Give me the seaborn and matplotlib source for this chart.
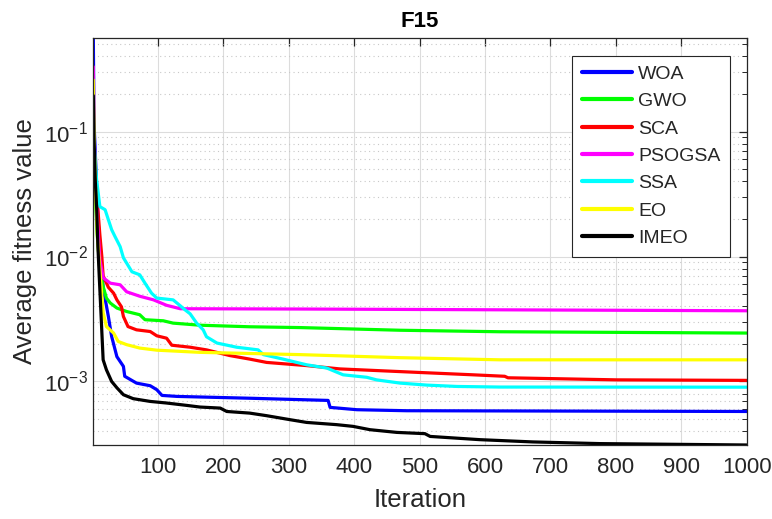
import numpy as np
import pandas as pd
import matplotlib
matplotlib.use("Agg")
import matplotlib.pyplot as plt
import seaborn as sns
from matplotlib.ticker import LogLocator, FixedLocator, NullFormatter

# ---------------- data ----------------
woa_it = [1, 2, 5, 8, 16, 24, 29, 37, 47, 49, 67, 88, 98, 106, 129, 240, 360, 363, 404, 480, 1000]
woa_v = [0.565, 0.12, 0.05, 0.02, 0.00562, 0.00331, 0.00229, 0.00158, 0.00132, 0.0011, 0.00097,
         0.000924, 0.000859, 0.000773, 0.000759, 0.000734, 0.000705, 0.00062, 0.000594, 0.000583, 0.000575]

gwo_it = [1, 2, 4, 7, 11, 16, 21, 27, 37, 52, 72, 80, 108, 123, 164, 240, 317, 470, 622, 1000]
gwo_v = [0.15, 0.08, 0.03, 0.015, 0.00783, 0.00575, 0.00465, 0.00424, 0.00387, 0.00363, 0.00342,
         0.00312, 0.00306, 0.00293, 0.00282, 0.00274, 0.0027, 0.00257, 0.0025, 0.00244]

sca_it = [1, 2, 11, 14, 16, 24, 32, 37, 44, 47, 54, 67, 88, 98, 113, 121, 149, 174, 210, 240,
          266, 327, 378, 500, 582, 630, 635, 801, 1000]
sca_v = [0.15, 0.06, 0.0149, 0.01, 0.00701, 0.00567, 0.00509, 0.0045, 0.00396, 0.00331, 0.00275,
         0.00259, 0.00251, 0.00232, 0.00222, 0.00195, 0.00188, 0.00179, 0.00161, 0.00151, 0.00142,
         0.00134, 0.00126, 0.00118, 0.00113, 0.0011, 0.00107, 0.00103, 0.00102]

pso_it = [1, 2, 5, 11, 16, 27, 42, 52, 72, 93, 113, 134, 317, 1000]
pso_v = [0.331, 0.1, 0.03, 0.00941, 0.00676, 0.00612, 0.00594, 0.00522, 0.00481, 0.0045, 0.00407,
         0.00382, 0.0038, 0.00368]

ssa_it = [1, 2, 6, 11, 19, 24, 29, 34, 42, 47, 52, 60, 72, 80, 90, 98, 123, 134, 141, 149, 159,
          169, 174, 190, 220, 253, 261, 291, 327, 358, 383, 419, 434, 470, 511, 557, 623, 1000]
ssa_v = [0.15, 0.08, 0.0411, 0.0251, 0.0237, 0.0197, 0.0164, 0.0145, 0.012, 0.00977, 0.00885,
         0.00755, 0.00714, 0.00612, 0.00509, 0.00465, 0.0045, 0.00403, 0.00375, 0.00348, 0.00293,
         0.00259, 0.00228, 0.00203, 0.00188, 0.00179, 0.00164, 0.00151, 0.00136, 0.00128, 0.00113,
         0.00108, 0.00103, 0.00097, 0.000935, 0.000912, 0.000902, 0.0009]

eo_it = [1, 2, 4, 7, 11, 16, 21, 32, 39, 52, 72, 98, 164, 317, 470, 623, 1000]
eo_v = [0.259, 0.1, 0.04, 0.015, 0.00783, 0.00355, 0.00275, 0.00244, 0.00209, 0.00197, 0.00185,
        0.00178, 0.00171, 0.00164, 0.00155, 0.00149, 0.00149]

imeo_it = [1, 2, 4, 6, 8, 10, 16, 21, 29, 37, 47, 62, 88, 113, 144, 164, 195, 205, 240, 266, 302,
           327, 373, 398, 424, 465, 508, 516, 592, 673, 776, 1000]
imeo_v = [0.194, 0.09, 0.04, 0.025, 0.012, 0.007, 0.00149, 0.00124, 0.001, 0.00089, 0.000783,
          0.000728, 0.000692, 0.000672, 0.000643, 0.000624, 0.000612, 0.000575, 0.000558, 0.000532,
          0.000494, 0.00047, 0.000451, 0.000437, 0.000411, 0.000391, 0.000382, 0.000363, 0.000342,
          0.000328, 0.000318, 0.00031]

names = ["WOA", "GWO", "SCA", "PSOGSA", "SSA", "EO", "IMEO"]
colors = ["#0000ff", "#00ff00", "#ff0000", "#ff00ff", "#00ffff", "#ffff00", "#000000"]
xticks = [100, 200, 300, 400, 500, 600, 700, 800, 900, 1000]

series = [(woa_it, woa_v), (gwo_it, gwo_v), (sca_it, sca_v), (pso_it, pso_v),
          (ssa_it, ssa_v), (eo_it, eo_v), (imeo_it, imeo_v)]
frames = []
for n, (it, v) in zip(names, series):
    frames.append(pd.DataFrame({"Iteration": it, "Value": v, "Algorithm": n}))
df = pd.concat(frames, ignore_index=True)

# ---------------- style ----------------
sns.set_style("white")
plt.rcParams["font.family"] = ["Liberation Sans", "DejaVu Sans"]
plt.rcParams["mathtext.default"] = "regular"
plt.rcParams["axes.unicode_minus"] = True

fig = plt.figure(figsize=(7.72, 5.19), dpi=100)
ax = fig.add_axes([0.1209, 0.1426, 0.9672 - 0.1209, 0.9274 - 0.1426])

sns.lineplot(data=df, x="Iteration", y="Value", hue="Algorithm", hue_order=names,
             palette=dict(zip(names, colors)), estimator=None, sort=False,
             linewidth=2.3, ax=ax, legend=True)

ax.set_yscale("log")
ax.set_xlim(1, 1000)
ax.set_ylim(min(imeo_v), max(woa_v))

ax.xaxis.set_major_locator(FixedLocator(xticks))
ax.yaxis.set_major_locator(LogLocator(base=10, numticks=10))
ax.yaxis.set_minor_locator(LogLocator(base=10, subs=np.arange(2, 10), numticks=20))
ax.yaxis.set_minor_formatter(NullFormatter())

ax.grid(True, which="major", color="#dcdcdc", linewidth=0.8, linestyle="-")
ax.grid(True, which="minor", axis="y", color="#c8c8c8", linewidth=0.8, linestyle=(0, (1, 3)))
ax.set_axisbelow(True)

for s in ax.spines.values():
    s.set_color("#262626")
    s.set_linewidth(0.9)

ax.tick_params(which="both", direction="in", top=True, right=True, colors="#262626",
               labelcolor="#262626")
ax.tick_params(which="major", length=6, width=0.9, labelsize=16)
ax.tick_params(which="minor", length=3.5, width=0.7)
ax.tick_params(axis="x", pad=9)
ax.tick_params(axis="y", pad=4)

ax.set_xlabel("Iteration", fontsize=18.5, color="#262626", labelpad=7)
ax.set_ylabel("Average fitness value", fontsize=18.5, color="#262626", labelpad=5)
ax.set_title("F15", fontsize=16, fontweight="bold", color="black", pad=8)

handles, labels = ax.get_legend_handles_labels()
leg = ax.legend(handles, labels, loc="upper right", bbox_to_anchor=(0.9747, 0.956),
                fontsize=14, frameon=True, fancybox=False, framealpha=1,
                edgecolor="#262626", handlelength=2.6, handletextpad=0.3,
                borderpad=0.5, labelspacing=0.5, borderaxespad=0)
leg.get_frame().set_linewidth(0.8)
for line in leg.get_lines():
    line.set_linewidth(3)

fig.savefig("out.png", dpi=100)
